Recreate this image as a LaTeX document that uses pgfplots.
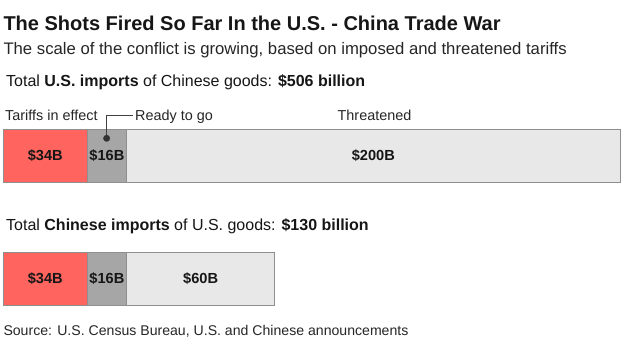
\documentclass[border=0pt]{standalone}
\usepackage{pgfplots}
\pgfplotsset{compat=1.18}
\usepackage{fontspec}
\setmainfont{Liberation Sans}
\definecolor{tred}{HTML}{FF645E}
\definecolor{tgrey}{HTML}{A6A6A6}
\definecolor{tlight}{HTML}{E8E8E8}
\definecolor{tedge}{HTML}{8F8F8F}
\definecolor{ttext}{HTML}{161616}
\definecolor{tsub}{HTML}{262626}
\begin{document}
\begin{tikzpicture}
\useasboundingbox (0pt,0pt) rectangle (631pt,-343pt);
\fill[white] (0pt,0pt) rectangle (631pt,-343pt);
\node[anchor=base west,inner sep=0pt,text=ttext] at (3.3pt,-30.7pt) {\fontsize{20}{24}\selectfont\bfseries The Shots Fired So Far In the U.S. - China Trade War};
\node[anchor=base west,inner sep=0pt,text=tsub] at (3.3pt,-54.3pt) {\fontsize{16.7}{20}\selectfont The scale of the conflict is growing, based on imposed and threatened tariffs};
\node[anchor=base west,inner sep=0pt,text=ttext] at (6pt,-86.7pt) {\fontsize{16}{20}\selectfont Total \textbf{U.S. imports} of Chinese goods: \textbf{\$506 billion}};
\node[anchor=base west,inner sep=0pt,text=ttext] at (6pt,-230pt) {\fontsize{16}{20}\selectfont Total \textbf{Chinese imports} of U.S. goods: \textbf{\$130 billion}};
\node[anchor=base west,inner sep=0pt,text=tsub] at (3.3pt,-335.5pt) {\fontsize{14.1}{17}\selectfont Source: U.S. Census Bureau, U.S. and Chinese announcements};
\node[anchor=base west,inner sep=0pt,text=tsub] at (5pt,-120pt) {\fontsize{14.4}{17}\selectfont Tariffs in effect};
\node[anchor=base west,inner sep=0pt,text=tsub] at (135pt,-120pt) {\fontsize{14.4}{17}\selectfont Ready to go};
\node[anchor=base,inner sep=0pt,text=tsub] at (374.5pt,-120pt) {\fontsize{14.4}{17}\selectfont Threatened};
\begin{axis}[
  at={(3.3pt,0pt)}, anchor=north west,
  scale only axis, width=616.7pt, height=343pt,
  xmin=0, xmax=250, ymin=0, ymax=343, y dir=reverse,
  hide axis, clip=false,
  xbar stacked, bar width=53pt,
]
\addplot[fill=tred, draw=tedge, line width=0.8pt] coordinates {(34,155.7) (34,279)};
\addplot[fill=tgrey, draw=tedge, line width=0.8pt] coordinates {(16,155.7) (16,279)};
\addplot[fill=tlight, draw=tedge, line width=0.8pt] coordinates {(200,155.7) (60,279)};
\end{axis}
\begin{axis}[
  at={(3.3pt,0pt)}, anchor=north west,
  scale only axis, width=616.7pt, height=343pt,
  xmin=0, xmax=250, ymin=0, ymax=343, y dir=reverse,
  hide axis, clip=false,
]
\addplot[draw=black!75, line width=0.9pt, mark=none] coordinates {(41.9,138.3) (41.9,115) (52.7,115)};
\addplot[only marks, mark=*, mark size=3.2pt, mark options={fill=black!80, draw=black!80}] coordinates {(41.9,138.3)};
\node[anchor=base,inner sep=0pt,text=ttext,font=\fontsize{14.6}{17}\selectfont\bfseries] at (axis cs:17,160) {\$34B};
\node[anchor=base,inner sep=0pt,text=ttext,font=\fontsize{14.6}{17}\selectfont\bfseries] at (axis cs:42,160) {\$16B};
\node[anchor=base,inner sep=0pt,text=ttext,font=\fontsize{14.6}{17}\selectfont\bfseries] at (axis cs:150,160) {\$200B};
\node[anchor=base,inner sep=0pt,text=ttext,font=\fontsize{14.6}{17}\selectfont\bfseries] at (axis cs:17,283.3) {\$34B};
\node[anchor=base,inner sep=0pt,text=ttext,font=\fontsize{14.6}{17}\selectfont\bfseries] at (axis cs:42,283.3) {\$16B};
\node[anchor=base,inner sep=0pt,text=ttext,font=\fontsize{14.6}{17}\selectfont\bfseries] at (axis cs:80,283.3) {\$60B};
\end{axis}
\end{tikzpicture}
\end{document}
